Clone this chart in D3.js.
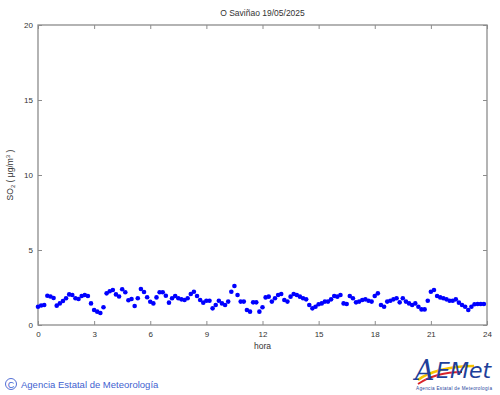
<!DOCTYPE html>
<html>
<head>
<meta charset="utf-8">
<script src="https://cdn.jsdelivr.net/npm/d3@7"></script>
<style>
  body { margin: 0; background: #fff; }
  svg { display: block; }
</style>
</head>
<body>
<div id="container"></div>
<script>
// datos: SO2 cada 10 minutos (hora = i/6)
const so2 = [
  1.22, 1.30, 1.33, 1.95, 1.90, 1.80,
  1.29, 1.44, 1.60, 1.78, 2.04, 2.00,
  1.78, 1.73, 1.93, 2.00, 1.93, 1.44,
  1.00, 0.89, 0.80, 1.18, 2.11, 2.25,
  2.33, 2.04, 1.90, 2.38, 2.18, 1.65,
  1.73, 1.27, 1.78, 2.40, 2.20, 1.85,
  1.55, 1.44, 1.84, 2.18, 2.18, 1.95,
  1.49, 1.78, 1.93, 1.78, 1.71, 1.67,
  1.78, 2.07, 2.22, 1.93, 1.67, 1.49,
  1.62, 1.62, 1.11, 1.33, 1.62, 1.44,
  1.33, 1.56, 2.22, 2.60, 2.00, 1.56,
  1.56, 1.00, 0.89, 1.51, 1.51, 0.89,
  1.18, 1.84, 1.89, 1.56, 1.78, 2.00,
  2.07, 1.67, 1.56, 1.89, 2.07, 2.00,
  1.89, 1.78, 1.71, 1.33, 1.11, 1.22,
  1.38, 1.44, 1.56, 1.56, 1.71, 1.93,
  1.89, 2.00, 1.44, 1.40, 1.93, 1.78,
  1.51, 1.56, 1.67, 1.71, 1.62, 1.56,
  1.93, 2.11, 1.33, 1.22, 1.56, 1.62,
  1.71, 1.78, 1.51, 1.78, 1.56, 1.44,
  1.33, 1.44, 1.22, 1.04, 1.04, 1.62,
  2.22, 2.33, 1.93, 1.84, 1.78, 1.71,
  1.62, 1.62, 1.71, 1.49, 1.33, 1.22,
  1.00, 1.22, 1.38, 1.40, 1.40, 1.40
];
const hourTicks = [0, 3, 6, 9, 12, 15, 18, 21, 24];
const so2Ticks = [0, 5, 10, 15, 20];
const title = "O Saviñao 19/05/2025";

const width = 500;
const height = 395;
const margin = { left: 38, right: 13, top: 25, bottom: 70 };
const axisColor = "#8c8c8c";
const font = "'Liberation Sans', Arial, sans-serif";

const svg = d3.select("#container").append("svg")
  .attr("width", width)
  .attr("height", height)
  .style("font-family", font);

const x = d3.scaleLinear().domain([0, 24]).range([margin.left, width - margin.right]);
const y = d3.scaleLinear().domain([0, 20]).range([height - margin.bottom, margin.top]);

// ejes
const xAxis = svg.append("g")
  .attr("transform", `translate(0,${y(0)})`)
  .call(d3.axisBottom(x).tickValues(hourTicks).tickSize(-4).tickSizeOuter(0).tickPadding(6));
const xTop = svg.append("g")
  .attr("transform", `translate(0,${y(20)})`)
  .call(d3.axisTop(x).tickValues(hourTicks).tickSize(-4).tickSizeOuter(0).tickFormat(""));
const yAxis = svg.append("g")
  .attr("transform", `translate(${x(0)},0)`)
  .call(d3.axisLeft(y).tickValues(so2Ticks).tickSize(-4).tickSizeOuter(0).tickPadding(5));
const yRight = svg.append("g")
  .attr("transform", `translate(${x(24)},0)`)
  .call(d3.axisRight(y).tickValues(so2Ticks).tickSize(-4).tickSizeOuter(0).tickFormat(""));

[xAxis, xTop, yAxis, yRight].forEach(g => {
  g.select(".domain").remove();
  g.selectAll("line").attr("stroke", axisColor);
  g.selectAll("text").attr("fill", "#333").style("font-size", "8px").style("font-family", font);
});

// marco
svg.append("rect")
  .attr("x", x(0))
  .attr("y", y(20))
  .attr("width", x(24) - x(0))
  .attr("height", y(0) - y(20))
  .attr("fill", "none")
  .attr("stroke", axisColor)
  .attr("stroke-width", 1.3);

// puntos
svg.append("g")
  .selectAll("circle")
  .data(so2)
  .enter()
  .append("circle")
  .attr("cx", (d, i) => x(i / 6))
  .attr("cy", d => y(d))
  .attr("r", 2.3)
  .attr("fill", "#0000ff");

// titulos
svg.append("text")
  .attr("x", (x(0) + x(24)) / 2)
  .attr("y", 16)
  .attr("text-anchor", "middle")
  .style("font-size", "8.5px")
  .attr("fill", "#333")
  .text(title);

svg.append("text")
  .attr("x", (x(0) + x(24)) / 2)
  .attr("y", 349)
  .attr("text-anchor", "middle")
  .style("font-size", "8.5px")
  .attr("fill", "#333")
  .text("hora");

const yLabel = svg.append("text")
  .attr("transform", `translate(13,${y(10)}) rotate(-90)`)
  .attr("text-anchor", "middle")
  .style("font-size", "8.5px")
  .attr("fill", "#333");
yLabel.append("tspan").text("SO");
yLabel.append("tspan").attr("dy", 2).style("font-size", "6px").text("2");
yLabel.append("tspan").attr("dy", -2).text(" ( μg/m");
yLabel.append("tspan").attr("dy", -3).style("font-size", "6px").text("3");
yLabel.append("tspan").attr("dy", 3).text(" )");

// pie
const footColor = "#3f5fd0";
svg.append("circle")
  .attr("cx", 11)
  .attr("cy", 384)
  .attr("r", 5.5)
  .attr("fill", "none")
  .attr("stroke", footColor)
  .attr("stroke-width", 0.9);
svg.append("text")
  .attr("x", 11)
  .attr("y", 387.5)
  .attr("text-anchor", "middle")
  .style("font-size", "9px")
  .attr("fill", footColor)
  .text("C");
svg.append("text")
  .attr("x", 21)
  .attr("y", 387.5)
  .style("font-size", "9.5px")
  .attr("fill", footColor)
  .text("Agencia Estatal de Meteorología");

// logo AEMet
const logo = svg.append("g");
logo.append("path")
  .attr("d", "M418,380 C428,372 450,366 474,366")
  .attr("fill", "none")
  .attr("stroke", "#f5c400")
  .attr("stroke-width", 2.5);
logo.append("path")
  .attr("d", "M418,384 C430,376 446,372 462,372")
  .attr("fill", "none")
  .attr("stroke", "#d8232a")
  .attr("stroke-width", 1.8);
logo.append("text")
  .attr("x", 415)
  .attr("y", 380)
  .style("font-family", "'DejaVu Serif', serif")
  .style("font-style", "italic")
  .style("font-size", "27px")
  .attr("fill", "#1e3f9a")
  .text("A");
logo.append("text")
  .attr("x", 436)
  .attr("y", 378)
  .style("font-family", "'DejaVu Sans', sans-serif")
  .style("font-style", "italic")
  .style("font-size", "22px")
  .attr("fill", "#1e3f9a")
  .text("EMet");
logo.append("text")
  .attr("x", 416)
  .attr("y", 390)
  .attr("textLength", 76)
  .style("font-size", "4.6px")
  .attr("fill", "#1e3f9a")
  .text("Agencia Estatal de Meteorología");
</script>
</body>
</html>
